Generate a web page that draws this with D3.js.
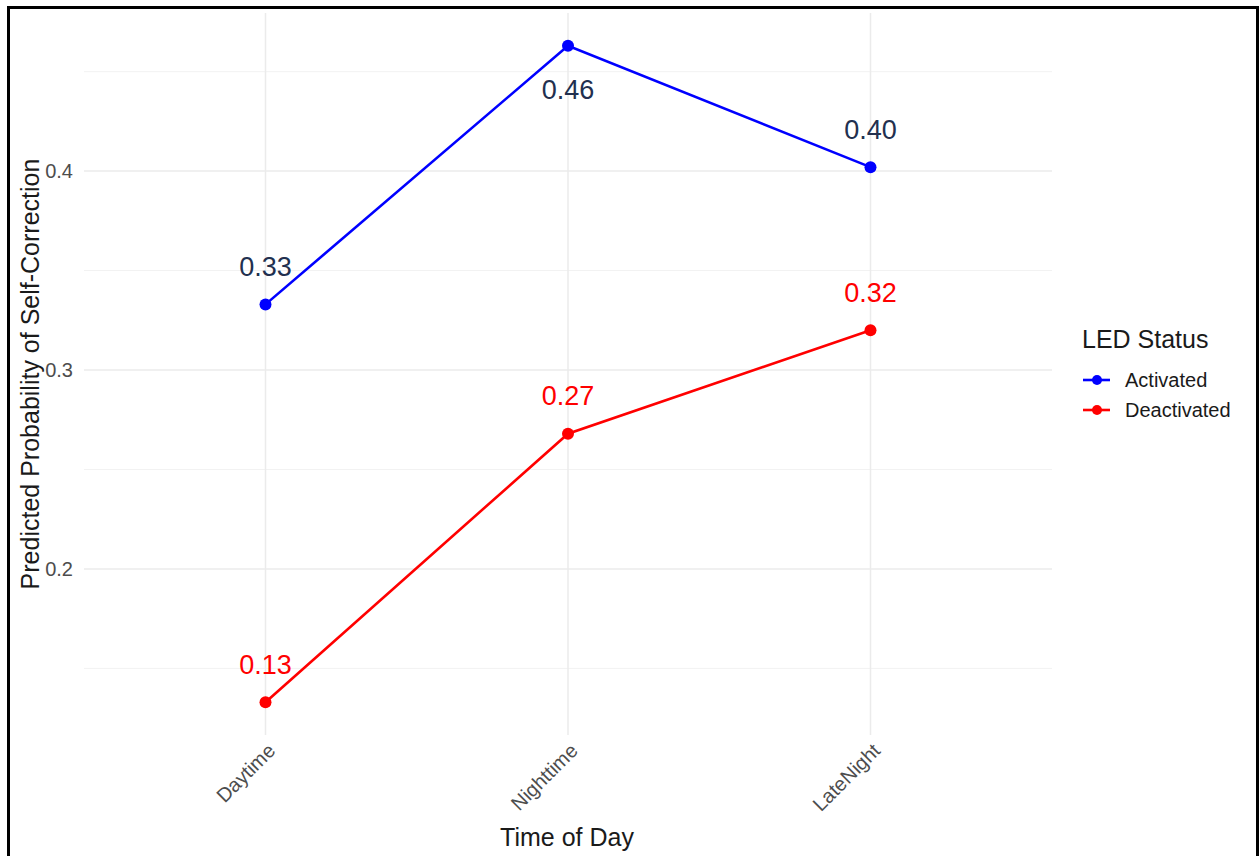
<!DOCTYPE html>
<html>
<head>
<meta charset="utf-8">
<script src="https://cdn.jsdelivr.net/npm/d3@7"></script>
<style>
  html, body { margin: 0; padding: 0; background: #fff; }
  svg { display: block; font-family: "Liberation Sans", Arial, sans-serif; }
</style>
</head>
<body>
<svg id="chart" width="1259" height="856"></svg>
<script>
const categories = ["Daytime", "Nighttime", "LateNight"];
const seriesNames = ["Activated", "Deactivated"];
const activatedValues = [0.333, 0.463, 0.402];
const deactivatedValues = [0.133, 0.268, 0.320];
const yTicks = [0.2, 0.3, 0.4];
const yMinorTicks = [0.15, 0.25, 0.35, 0.45];
const seriesColors = ["#0000ff", "#ff0000"];
const labelColors = ["#22304f", "#ff0000"];

const series = [
  { name: seriesNames[0], values: activatedValues, color: seriesColors[0], labelColor: labelColors[0] },
  { name: seriesNames[1], values: deactivatedValues, color: seriesColors[1], labelColor: labelColors[1] }
];

const svg = d3.select("#chart");
const FONT = "Liberation Sans, Arial, sans-serif";

// outer border
svg.append("rect").attr("x", 8.5).attr("y", 7.5).attr("width", 1249).attr("height", 860)
  .attr("fill", "none").attr("stroke", "#000").attr("stroke-width", 3);

const panel = { left: 84, right: 1052, top: 13, bottom: 735 };

const allVals = activatedValues.concat(deactivatedValues);
const yMin = d3.min(allVals), yMax = d3.max(allVals);
const pad = (yMax - yMin) * 0.05;
const y = d3.scaleLinear().domain([yMin - pad, yMax + pad]).range([panel.bottom, panel.top]);

const x = d3.scalePoint().domain(categories).range([panel.left, panel.right]).padding(0.6);

const grid = svg.append("g");
grid.selectAll(".minor").data(yMinorTicks).enter().append("line")
  .attr("x1", panel.left).attr("x2", panel.right)
  .attr("y1", d => y(d)).attr("y2", d => y(d))
  .attr("stroke", "#f2f2f2").attr("stroke-width", 1);
grid.selectAll(".major").data(yTicks).enter().append("line")
  .attr("x1", panel.left).attr("x2", panel.right)
  .attr("y1", d => y(d)).attr("y2", d => y(d))
  .attr("stroke", "#ebebeb").attr("stroke-width", 1.5);
grid.selectAll(".vmajor").data(categories).enter().append("line")
  .attr("x1", d => x(d)).attr("x2", d => x(d))
  .attr("y1", panel.top).attr("y2", panel.bottom)
  .attr("stroke", "#ebebeb").attr("stroke-width", 1.5);

// y axis
const yAxis = d3.axisLeft(y).tickValues(yTicks).tickFormat(d3.format(".1f")).tickSize(0).tickPadding(11);
const gy = svg.append("g").attr("transform", `translate(${panel.left},0)`).call(yAxis);
gy.select(".domain").remove();
gy.attr("font-size", null).attr("font-family", null);
gy.selectAll("text").attr("font-size", 20).attr("fill", "#4d4d4d").attr("font-family", FONT);

// x axis
const xAxis = d3.axisBottom(x).tickSize(0).tickPadding(0);
const gx = svg.append("g").attr("transform", `translate(0,${panel.bottom})`).call(xAxis);
gx.select(".domain").remove();
gx.attr("font-size", null).attr("font-family", null);
gx.selectAll(".tick").attr("transform", d => `translate(${x(d) + 11},17)`);
gx.selectAll("text")
  .attr("font-size", 20).attr("fill", "#4d4d4d").attr("font-family", FONT)
  .attr("text-anchor", "end")
  .attr("dy", null)
  .attr("y", 0)
  .attr("transform", "rotate(-45)");

// lines
const line = d3.line().x((d, i) => x(categories[i])).y(d => y(d));
series.forEach(s => {
  svg.append("path").datum(s.values).attr("d", line)
    .attr("fill", "none").attr("stroke", s.color).attr("stroke-width", 2.6);
});
series.forEach(s => {
  svg.selectAll(null).data(s.values).enter().append("circle")
    .attr("cx", (d, i) => x(categories[i])).attr("cy", d => y(d))
    .attr("r", 6).attr("fill", s.color);
});
// value labels
series.forEach(s => {
  svg.selectAll(null).data(s.values).enter().append("text")
    .attr("x", (d, i) => x(categories[i]))
    .attr("y", d => d === yMax ? y(d) + 43 : y(d) - 38)
    .attr("dy", "0.36em")
    .attr("text-anchor", "middle")
    .attr("font-size", 27)
    .attr("fill", s.labelColor)
    .text(d => d3.format(".2f")(d));
});

// axis titles
svg.append("text").attr("x", 567).attr("y", 846)
  .attr("text-anchor", "middle").attr("font-size", 25).attr("fill", "#1a1a1a").text("Time of Day");
svg.append("text")
  .attr("transform", `translate(39,${(panel.top + panel.bottom) / 2}) rotate(-90)`)
  .attr("text-anchor", "middle").attr("font-size", 25).attr("fill", "#1a1a1a")
  .text("Predicted Probability of Self-Correction");

// legend
const lg = svg.append("g").attr("transform", "translate(1082,0)");
lg.append("text").attr("x", 0).attr("y", 348).attr("font-size", 25).attr("fill", "#1a1a1a").text("LED Status");
series.forEach((s, i) => {
  const cy = 380 + i * 30;
  lg.append("line").attr("x1", 1).attr("x2", 28).attr("y1", cy).attr("y2", cy)
    .attr("stroke", s.color).attr("stroke-width", 2.6);
  lg.append("circle").attr("cx", 15).attr("cy", cy).attr("r", 5).attr("fill", s.color);
  lg.append("text").attr("x", 43).attr("y", cy).attr("dy", "0.36em")
    .attr("font-size", 20).attr("fill", "#1a1a1a").text(s.name);
});
</script>
</body>
</html>
